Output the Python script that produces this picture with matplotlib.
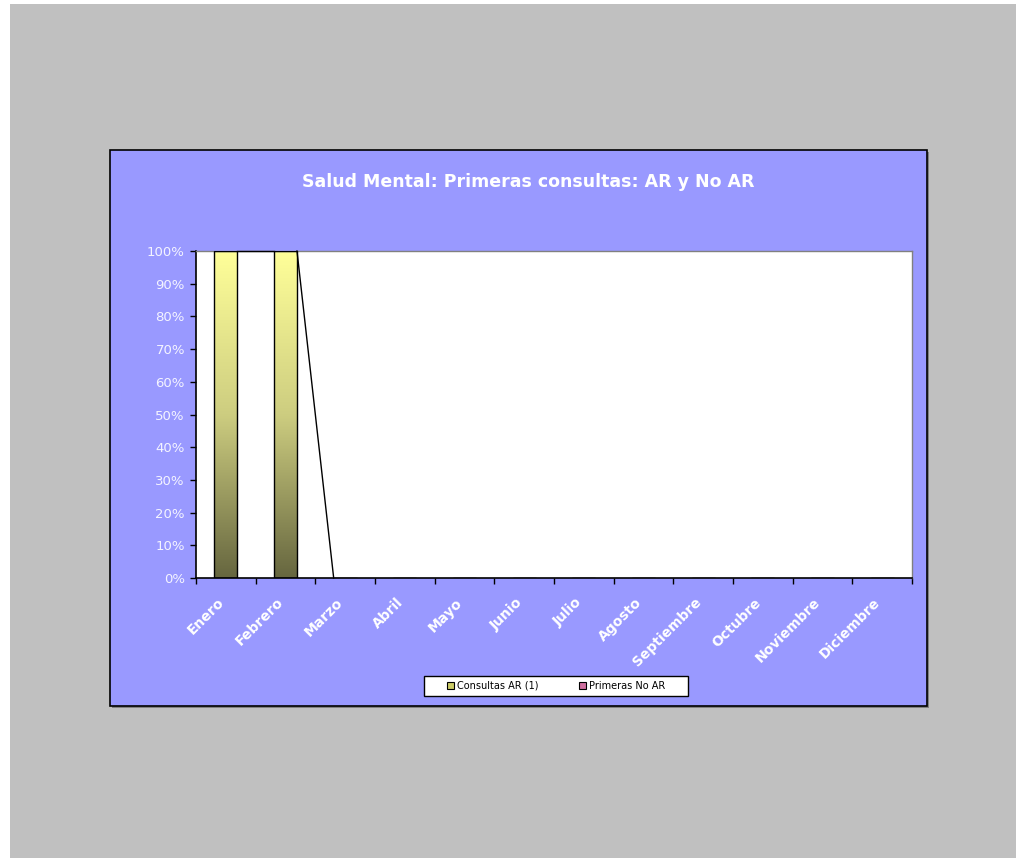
import matplotlib.pyplot as plt
from matplotlib.patches import Rectangle, Patch
from matplotlib.colors import LinearSegmentedColormap
import matplotlib.transforms as mtransforms
import numpy as np

# data (percent share per month)
months = ['Enero', 'Febrero', 'Marzo', 'Abril', 'Mayo', 'Junio', 'Julio',
          'Agosto', 'Septiembre', 'Octubre', 'Noviembre', 'Diciembre']
consultas_ar = [100, 100, 0, 0, 0, 0, 0, 0, 0, 0, 0, 0]
primeras_no_ar = [0, 0, 0, 0, 0, 0, 0, 0, 0, 0, 0, 0]
yticks = [0, 10, 20, 30, 40, 50, 60, 70, 80, 90, 100]
ytick_labels = ['%d%%' % v for v in yticks]

title = 'Salud Mental: Primeras consultas: AR y No AR'
series_names = ['Consultas AR (1)', 'Primeras No AR']

W, H = 1016, 859
fig = plt.figure(figsize=(W / 100, H / 100), dpi=100, facecolor='white')

def fx(px):
    return px / W

def fy(py):
    return 1 - py / H

# gray page
fig.patches.append(Rectangle((fx(10), fy(858)), fx(1006), 854 / H,
                             transform=fig.transFigure, facecolor='#C0C0C0',
                             edgecolor='none', zorder=0))
# chart area shadow + box
fig.patches.append(Rectangle((fx(112), fy(708)), fx(817), 556 / H,
                             transform=fig.transFigure, facecolor='#808080',
                             edgecolor='none', zorder=0.5))
fig.patches.append(Rectangle((fx(110), fy(706)), fx(817), 556 / H,
                             transform=fig.transFigure, facecolor='#9999FF',
                             edgecolor='black', linewidth=1.2, zorder=1))
# legend box
fig.patches.append(Rectangle((fx(424), fy(696)), fx(264), 20 / H,
                             transform=fig.transFigure, facecolor='white',
                             edgecolor='black', linewidth=1.0, zorder=1.5))

ax = fig.add_axes([fx(196), fy(578), fx(716), 327 / H])
ax.set_facecolor('white')
ax.set_zorder(2)

x = np.arange(len(months))
bw = 0.385
bars = ax.bar(x, consultas_ar, width=bw, color='none', edgecolor='black',
              linewidth=1.0, zorder=3)
ax.bar(x, primeras_no_ar, width=bw, bottom=consultas_ar, color='#CC6699',
       edgecolor='none', linewidth=0, zorder=3)

# gradient fill for the AR bars
cmap = LinearSegmentedColormap.from_list(
    'olive', [(0, '#66663F'), (0.5, '#CDCD80'), (1, '#FFFF99')])
grad = np.linspace(0, 1, 256).reshape(-1, 1)
for b in bars:
    if b.get_height() <= 0:
        continue
    x0, y0 = b.get_x(), b.get_y()
    im = ax.imshow(grad, extent=[x0, x0 + b.get_width(), y0, y0 + b.get_height()],
                   origin='lower', aspect='auto', cmap=cmap, zorder=2.5)
    im.set_clip_path(b)

# series lines between adjacent bars
for i in range(len(months) - 1):
    if consultas_ar[i] == 0 and consultas_ar[i + 1] == 0:
        continue
    ax.plot([x[i] + bw / 2, x[i + 1] - bw / 2],
            [consultas_ar[i], consultas_ar[i + 1]],
            color='black', linewidth=1.0, zorder=4, clip_on=False)

ax.set_xlim(-0.5, len(months) - 0.5)
ax.set_ylim(0, 100)

ax.set_yticks(yticks)
ax.set_yticklabels(ytick_labels, color='#F4F4FF', fontsize=9.5)
ax.tick_params(axis='y', direction='out', length=4, width=1, pad=4)

ax.set_xticks(x)
ax.set_xticklabels(months, rotation=45, ha='right', rotation_mode='anchor',
                   color='white', fontsize=10, fontweight='bold')
ax.tick_params(axis='x', which='major', length=0, pad=11)
shift = mtransforms.ScaledTranslation(-9 / 100, -2 / 100, fig.dpi_scale_trans)
for lab in ax.get_xticklabels():
    lab.set_transform(lab.get_transform() + shift)
ax.set_xticks(np.arange(-0.5, len(months)), minor=True)
ax.tick_params(axis='x', which='minor', direction='out', length=4, width=1)

for s in ['left', 'bottom']:
    ax.spines[s].set_color('black')
    ax.spines[s].set_linewidth(1.2)
for s in ['top', 'right']:
    ax.spines[s].set_color('#808080')
    ax.spines[s].set_linewidth(1.0)

fig.text(fx(528), fy(182), title, ha='center', va='center', color='white',
         fontsize=12.5, fontweight='bold')

handles = [Patch(facecolor='#CCCC66', edgecolor='black', linewidth=0.8),
           Patch(facecolor='#D070A0', edgecolor='black', linewidth=0.8)]
leg = fig.legend(handles, series_names, loc='center',
                 bbox_to_anchor=(fx(556), fy(686)), ncol=2, fontsize=7,
                 frameon=False, handlelength=0.7,
                 handleheight=0.7, handletextpad=0.3, columnspacing=4.2,
                 borderpad=0.2, borderaxespad=0)
leg.set_zorder(5)

fig.savefig('out.png', dpi=100, facecolor='white')
